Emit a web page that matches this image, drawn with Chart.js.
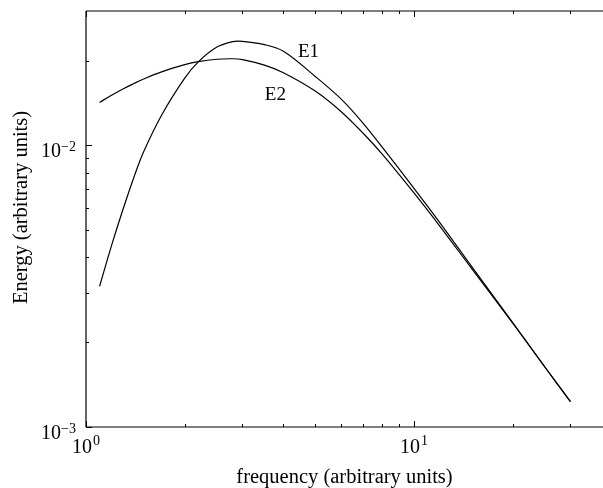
<!DOCTYPE html>
<html>
<head>
<meta charset="utf-8">
<script src="https://cdn.jsdelivr.net/npm/chart.js@4/dist/chart.umd.min.js"></script>
<style>
  html, body { margin: 0; padding: 0; background: #fff; overflow: hidden; }
  #wrap { width: 603px; height: 488px; }
</style>
</head>
<body>
<div id="wrap"><canvas id="c" width="603" height="488"></canvas></div>
<script>
// Frequency samples and the two energy spectra
const frequency = [1.1, 1.2, 1.3, 1.4, 1.5, 1.7, 2, 2.2, 2.5, 2.8, 3, 3.5, 4, 5, 6, 7, 8, 10, 12, 15, 20, 25, 30];
const energyE1 = [0.00316, 0.00446, 0.00598, 0.00771, 0.00951, 0.01280, 0.01732, 0.01980, 0.02230, 0.02336, 0.02342, 0.02279, 0.02158, 0.01757, 0.01459, 0.01198, 0.00985, 0.00704, 0.00531, 0.00371, 0.00235, 0.00164, 0.00123];
const energyE2 = [0.01421, 0.01509, 0.01589, 0.01658, 0.01721, 0.01824, 0.01934, 0.01983, 0.02022, 0.02030, 0.02017, 0.01928, 0.01812, 0.01559, 0.01317, 0.01104, 0.00931, 0.00678, 0.00516, 0.00365, 0.00234, 0.00164, 0.00123];

// Axis ranges
const xRange = [1, 37.7];
const yRange = [0.001, 0.03];

// Tick positions and labels (decade labels are drawn as base + exponent)
const xMajorTicks = [1, 10];
const xMinorTicks = [2, 3, 4, 5, 6, 7, 8, 9, 20, 30];
const xTickLabels = [['10', '0'], ['10', '1']];
const yMajorTicks = [0.001, 0.01];
const yMinorTicks = [0.002, 0.003, 0.004, 0.005, 0.006, 0.007, 0.008, 0.009, 0.02];
const yTickLabels = [['10', '\u22123'], ['10', '\u22122']];

// Curve names placed next to the curves (frequency, energy)
const curveNames = ['E1', 'E2'];
const curveNameAnchors = [[4.43, 0.0206], [3.51, 0.01444]];

const xTitle = 'frequency (arbitrary units)';
const yTitle = 'Energy (arbitrary units)';

const SERIF = '"Liberation Serif", "Times New Roman", serif';

const toPoints = (ys) => frequency.map((f, i) => ({ x: f, y: ys[i] }));

// Frame, inward ticks, decade labels, axis titles and curve names
const framePlugin = {
  id: 'frame',
  afterDraw(chart) {
    const ctx = chart.ctx;
    const a = chart.chartArea;
    const xs = chart.scales.x, ys = chart.scales.y;
    ctx.save();
    ctx.strokeStyle = '#000';
    ctx.lineWidth = 1.2;
    ctx.beginPath();
    ctx.moveTo(a.left, a.top); ctx.lineTo(a.right + 2, a.top);
    ctx.moveTo(a.left, a.top); ctx.lineTo(a.left, a.bottom);
    ctx.moveTo(a.left, a.bottom); ctx.lineTo(a.right + 2, a.bottom);
    ctx.stroke();

    ctx.lineWidth = 1;
    ctx.beginPath();
    const xTick = (v, len) => {
      const px = Math.round(xs.getPixelForValue(v)) + 0.5;
      ctx.moveTo(px, a.bottom); ctx.lineTo(px, a.bottom - len);
      ctx.moveTo(px, a.top); ctx.lineTo(px, a.top + len);
    };
    const yTick = (v, len) => {
      const py = Math.round(ys.getPixelForValue(v)) + 0.5;
      ctx.moveTo(a.left, py); ctx.lineTo(a.left + len, py);
    };
    xMajorTicks.forEach(v => xTick(v, 6));
    xMinorTicks.forEach(v => xTick(v, 3));
    yMajorTicks.forEach(v => yTick(v, 6));
    yMinorTicks.forEach(v => yTick(v, 3));
    ctx.stroke();

    ctx.fillStyle = '#000';
    const baseFont = '20px ' + SERIF;
    const expFont = '14px ' + SERIF;
    ctx.textBaseline = 'alphabetic';

    // x decade labels, centred on the tick
    xMajorTicks.forEach((v, i) => {
      const [b, e] = xTickLabels[i];
      ctx.font = baseFont; const wb = ctx.measureText(b).width;
      ctx.font = expFont; const we = ctx.measureText(e).width;
      const cx = xs.getPixelForValue(v);
      const x0 = cx - (wb + we + 1) / 2;
      const base = a.bottom + 26;
      ctx.font = baseFont; ctx.textAlign = 'left';
      ctx.fillText(b, x0, base);
      ctx.font = expFont;
      ctx.fillText(e, x0 + wb + 1, base - 8);
    });

    // y decade labels, right-aligned left of the axis
    yMajorTicks.forEach((v, i) => {
      const [b, e] = yTickLabels[i];
      ctx.font = expFont; const we = ctx.measureText(e).width;
      const right = a.left - 10;
      const py = ys.getPixelForValue(v);
      const base = py + 11.5;
      ctx.textAlign = 'right';
      ctx.font = expFont;
      ctx.fillText(e, right, base - 6);
      ctx.font = baseFont;
      ctx.fillText(b, right - we, base);
    });

    // axis titles
    ctx.font = '20.5px ' + SERIF;
    ctx.textAlign = 'center';
    ctx.fillText(xTitle, (a.left + a.right) / 2, 483);
    ctx.save();
    ctx.translate(26.5, 207.5);
    ctx.rotate(-Math.PI / 2);
    ctx.fillText(yTitle, 0, 0);
    ctx.restore();

    // curve names
    ctx.font = '19px ' + SERIF;
    ctx.textAlign = 'left';
    curveNames.forEach((name, i) => {
      const [fx, fy] = curveNameAnchors[i];
      ctx.fillText(name, xs.getPixelForValue(fx), ys.getPixelForValue(fy));
    });
    ctx.restore();
  }
};

new Chart(document.getElementById('c'), {
  type: 'line',
  data: {
    datasets: [
      { label: 'E1', data: toPoints(energyE1), borderColor: '#000', borderWidth: 1.2, pointRadius: 0, tension: 0.35, fill: false },
      { label: 'E2', data: toPoints(energyE2), borderColor: '#000', borderWidth: 1.2, pointRadius: 0, tension: 0.35, fill: false }
    ]
  },
  options: {
    responsive: false,
    animation: false,
    devicePixelRatio: 1,
    layout: { padding: { left: 86, top: 11, right: 0, bottom: 61 } },
    plugins: { legend: { display: false }, tooltip: { enabled: false } },
    scales: {
      x: { type: 'logarithmic', min: xRange[0], max: xRange[1], display: false },
      y: { type: 'logarithmic', min: yRange[0], max: yRange[1], display: false }
    }
  },
  plugins: [framePlugin]
});
</script>
</body>
</html>
